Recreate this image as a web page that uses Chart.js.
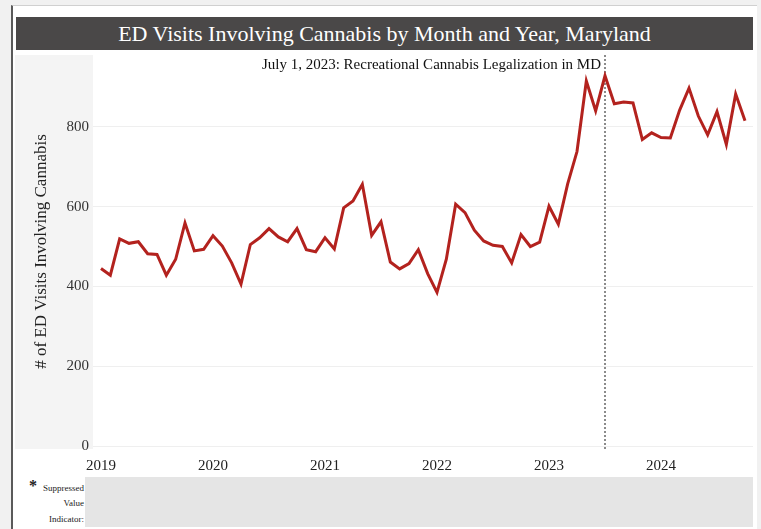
<!DOCTYPE html>
<html>
<head>
<meta charset="utf-8">
<script src="https://cdn.jsdelivr.net/npm/chart.js@4.4.1/dist/chart.umd.min.js"></script>
<style>
  body { margin: 0; background: #f1f1f1; font-family: "Liberation Serif", "Times New Roman", serif; }
  #frame { position: absolute; left: 11px; top: 5px; width: 744px; height: 530px; background: #fff;
           border-left: 2px solid #5a5a5a; border-top: 1px solid #d0d0d0; }
  #title { position: absolute; left: 16px; top: 17px; width: 737px; height: 33px; background: #4a4848;
           color: #fff; font-size: 22px; line-height: 33px; text-align: center; }
  #chart { position: absolute; left: 15px; top: 55px; }
  #supp { position: absolute; left: 85px; top: 477px; width: 668px; height: 50px; background: #e5e5e5; }
  .lab { position: absolute; right: 677px; font-size: 9px; color: #222; text-align: right; }
  #star { position: absolute; left: 29px; top: 477px; font-size: 16px; font-weight: bold; color: #222; }
</style>
</head>
<body>
<div id="frame"></div>
<div id="title">ED Visits Involving Cannabis by Month and Year, Maryland</div>
<canvas id="chart" width="740" height="421"></canvas>
<div id="supp"></div>
<div id="star">*</div>
<div class="lab" style="top:483px">Suppressed</div>
<div class="lab" style="top:498px">Value</div>
<div class="lab" style="top:514px">Indicator:</div>
<script>
// monthly ED visits, Jan 2019 - Oct 2024
var visits = [
  445, 428, 519, 508, 512, 482, 480, 428, 468, 559, 489, 493,
  527, 501, 459, 406, 505, 522, 545, 524, 512, 545, 492, 487,
  522, 494, 597, 614, 656, 528, 562, 461, 444, 457, 492, 432,
  385, 468, 606, 585, 541, 514, 503, 500, 459, 530, 500, 511,
  601, 556, 657, 738, 915, 840, 928, 858, 862, 860, 768, 785,
  773, 772, 842, 897, 827, 780, 838, 756, 882, 815
];
var years = ['2019', '2020', '2021', '2022', '2023', '2024'];
var yTicks = [0, 200, 400, 600, 800];
var legalIndex = 54; // July 2023
var legalText = 'July 1, 2023: Recreational Cannabis Legalization in MD';

var points = visits.map(function(v, i){ return {x: i, y: v}; });
var serif = '"Liberation Serif", "Times New Roman", serif';

var bgPlugin = {
  id: 'bg',
  beforeDraw: function(chart){
    var ctx = chart.ctx, a = chart.chartArea;
    ctx.save();
    ctx.fillStyle = '#f4f4f4';
    ctx.fillRect(0, 0, a.left, a.bottom + 3);
    ctx.restore();
  }
};

var legalPlugin = {
  id: 'legal',
  beforeDatasetsDraw: function(chart){
    var ctx = chart.ctx, a = chart.chartArea;
    var x = chart.scales.x.getPixelForValue(legalIndex);
    ctx.save();
    ctx.strokeStyle = '#666';
    ctx.lineWidth = 1.5;
    ctx.setLineDash([2, 2]);
    ctx.beginPath();
    ctx.moveTo(x, a.top - 2);
    ctx.lineTo(x, a.bottom + 3);
    ctx.stroke();
    ctx.setLineDash([]);
    ctx.fillStyle = '#111';
    ctx.font = '15px ' + serif;
    ctx.textAlign = 'right';
    ctx.textBaseline = 'middle';
    ctx.fillText(legalText, x - 4, a.top + 8);
    ctx.restore();
  }
};

new Chart(document.getElementById('chart').getContext('2d'), {
  type: 'line',
  data: {
    datasets: [{
      data: points,
      borderColor: '#b3221e',
      borderWidth: 3,
      pointRadius: 0,
      tension: 0,
      fill: false
    }]
  },
  options: {
    responsive: false,
    devicePixelRatio: 1,
    animation: false,
    layout: { padding: { top: 2, right: 2, left: 0, bottom: 0 } },
    plugins: { legend: { display: false }, tooltip: { enabled: false } },
    scales: {
      x: {
        type: 'linear',
        min: -0.857,
        max: 69.857,
        afterBuildTicks: function(s){ s.ticks = years.map(function(y, i){ return {value: i * 12}; }); },
        afterFit: function(s){ s.height = 30; s.paddingLeft = 0; s.paddingRight = 0; },
        grid: { display: false },
        border: { display: false },
        ticks: {
          padding: 3,
          maxRotation: 0,
          autoSkip: false,
          color: '#222',
          font: { family: serif, size: 15 },
          callback: function(v){ return years[Math.round(v / 12)]; }
        }
      },
      y: {
        min: 0,
        max: 975,
        afterBuildTicks: function(s){ s.ticks = yTicks.map(function(v){ return {value: v}; }); },
        afterFit: function(s){ s.width = 78; s.paddingTop = 0; s.paddingBottom = 0; },
        grid: { color: '#efefef', drawTicks: false },
        border: { display: false },
        ticks: {
          padding: 4,
          color: '#333',
          font: { family: serif, size: 15 }
        },
        title: {
          display: true,
          text: '# of ED Visits Involving Cannabis',
          color: '#222',
          font: { family: serif, size: 17 },
          padding: { top: 16, bottom: 0 }
        }
      }
    }
  },
  plugins: [bgPlugin, legalPlugin]
});
</script>
</body>
</html>
